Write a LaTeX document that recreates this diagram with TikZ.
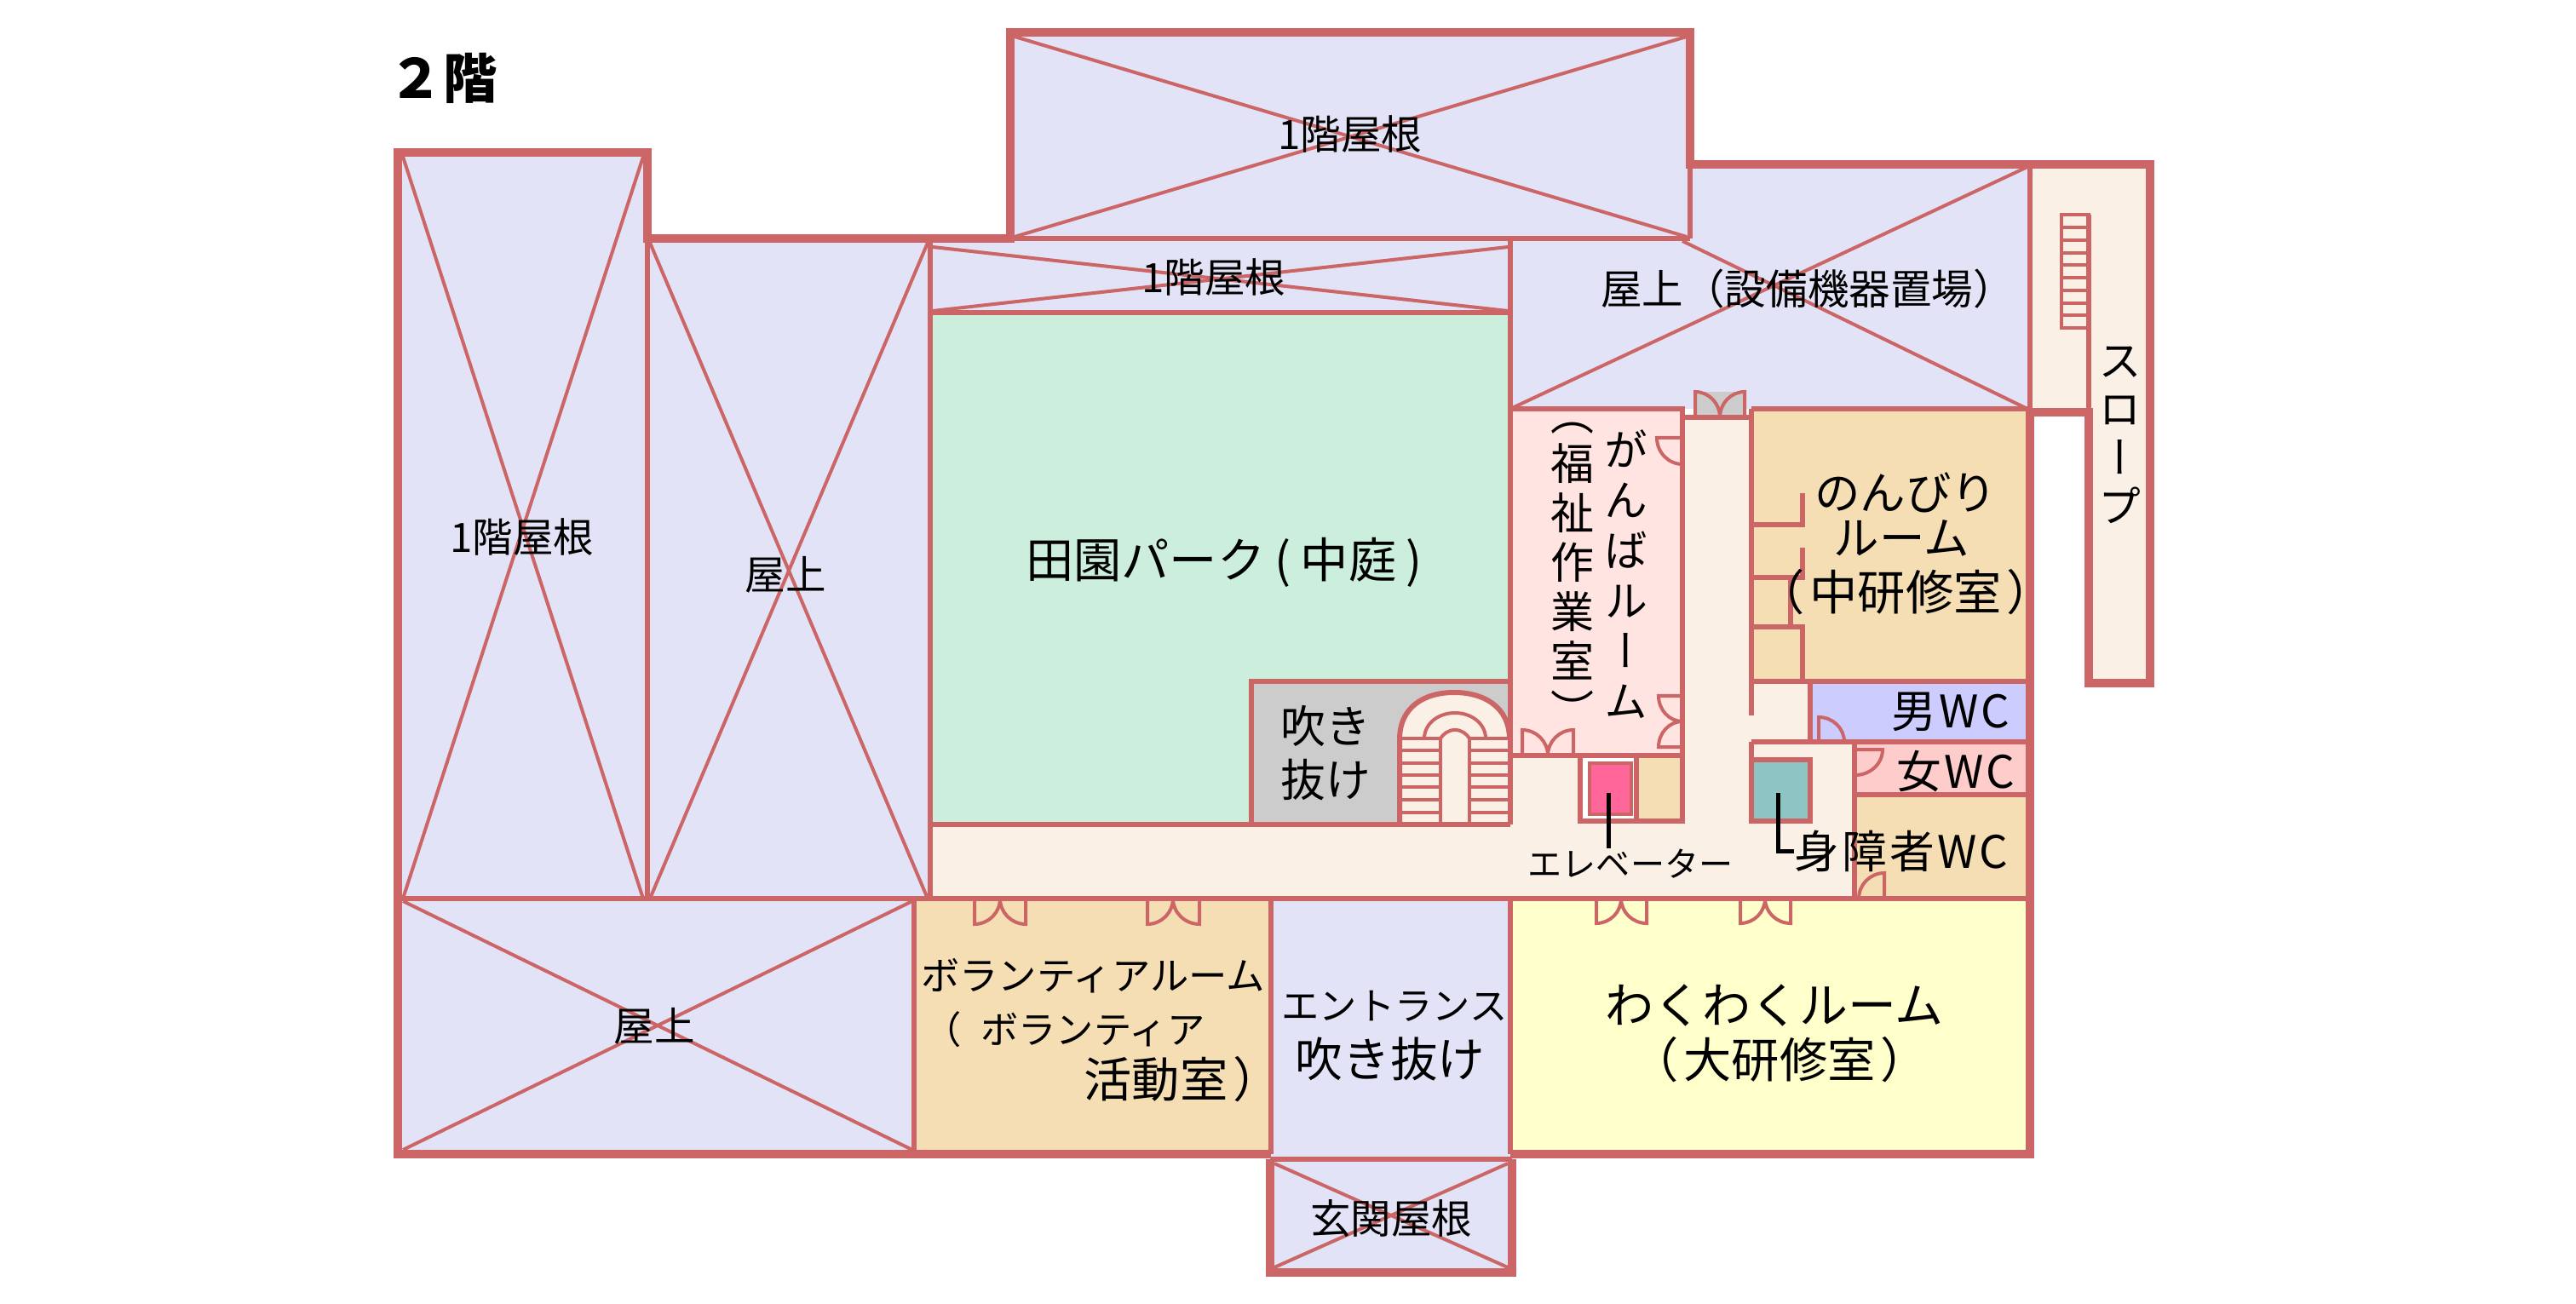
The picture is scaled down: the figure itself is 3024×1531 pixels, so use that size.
\documentclass[tikz,border=0pt]{standalone}
\usepackage{fontspec}
\setmainfont{Noto Sans CJK JP}
\newfontfamily\vertfont[RawFeature={+vert}]{Noto Sans CJK JP}
\usetikzlibrary{calc}
\definecolor{wallred}{HTML}{CC6666}
\definecolor{roofblue}{HTML}{E3E3F7}
\definecolor{courtgreen}{HTML}{CCEEDD}
\definecolor{voidgray}{HTML}{CCCCCC}
\definecolor{roomtan}{HTML}{F5DEB3}
\definecolor{roompink}{HTML}{FFE4E1}
\definecolor{hallcream}{HTML}{FAF0E6}
\definecolor{roomyellow}{HTML}{FFFFCC}
\definecolor{wcblue}{HTML}{CCCCFF}
\definecolor{wcpink}{HTML}{FFCCCC}
\definecolor{wcteal}{HTML}{8FC4C4}
\definecolor{liftpink}{HTML}{FF6699}
\tikzset{
  wallthick/.style={draw=wallred,line width=0.10cm,line join=miter},
  wallthin/.style={draw=wallred,line width=0.06cm},
  crossline/.style={draw=wallred,line width=0.04cm},
  doorline/.style={draw=wallred,line width=0.04cm},
  leadline/.style={draw=black,line width=0.05cm},
  lbl/.style={inner sep=0pt,font=\fontsize{#1}{#1}\selectfont},
  vlbl/.style={inner sep=0pt,align=center,font=\vertfont\fontsize{14.5}{#1}\selectfont}
}
% hinge, leaf tip, end on the wall
\newcommand{\doorleaf}[3]{
  \draw[doorline] (#1) -- (#2) .. controls ($(#2)+.55*(#3)-.55*(#1)$) and ($(#3)+.55*(#2)-.55*(#1)$) .. (#3);
}
\begin{document}
\begin{tikzpicture}[x=0.01cm,y=-0.01cm]
    \useasboundingbox (0,0) rectangle (3024,1531);
    \fill[white] (0,0) rectangle (3024,1531);
    % rooms
    \fill[roofblue] (467,179) -- (760,179) -- (760,280) -- (1186,280) -- (1186,38) -- (1984,38) -- (1984,193) -- (2383,193) -- (2383,480) -- (1773,480) -- (1773,1355) -- (467,1355) -- cycle;
    \fill[roofblue] (1491,1355) rectangle (1775,1494);
    \fill[courtgreen] (1092,367) rectangle (1773,968);
    \fill[voidgray] (1469,800) rectangle (1773,968);
    \fill[roomtan] (1073,1055) rectangle (1492,1355);
    \fill[roomyellow] (1773,1055) rectangle (2383,1355);
    \fill[roompink] (1773,480) rectangle (1975,887);
    \fill[voidgray] (1990,460) rectangle (2048,490);
    \fill[roomtan] (2056,480) rectangle (2383,800);
    \fill[wcblue] (2125,800) rectangle (2383,871);
    \fill[wcpink] (2177,871) rectangle (2383,933);
    \fill[roomtan] (2177,933) rectangle (2383,1055);
    \fill[hallcream] (1092,968) -- (1773,968) -- (1773,887) -- (1975,887) -- (1975,490) -- (2056,490) -- (2056,800) -- (2125,800) -- (2125,871) -- (2177,871) -- (2177,1055) -- (1092,1055) -- cycle;
    \fill[hallcream] (2383,193) -- (2524,193) -- (2524,802) -- (2452,802) -- (2452,484) -- (2383,484) -- cycle;
    \fill[roomtan] (1921,887) rectangle (1975,964);
    % roof crosses
    \draw[crossline] (473,184) -- (755,1055);
    \draw[crossline] (755,184) -- (473,1055);
    \draw[crossline] (763,285) -- (1089,1055);
    \draw[crossline] (1089,285) -- (763,1055);
    \draw[crossline] (1191,43) -- (1980,278);
    \draw[crossline] (1980,43) -- (1191,278);
    \draw[crossline] (1095,290) -- (1770,365);
    \draw[crossline] (1770,290) -- (1095,365);
    \draw[crossline] (1773,480) -- (2380,196);
    \draw[crossline] (1975,283) -- (2380,480);
    \draw[crossline] (473,1350) -- (1071,1058);
    \draw[crossline] (473,1058) -- (1071,1350);
    \draw[crossline] (1496,1366) -- (1770,1488);
    \draw[crossline] (1770,1366) -- (1496,1488);
    % stairs at the void
    \fill[hallcream] (1643,968) -- (1643,868) .. controls (1643,830) and (1672,813) .. (1707,813) .. controls (1742,813) and (1772,830) .. (1772,868) -- (1772,968) -- cycle;
    \draw[wallthin] (1643,968) -- (1643,868) .. controls (1643,830) and (1672,813) .. (1707,813) .. controls (1742,813) and (1772,830) .. (1772,868);
    \draw[doorline] (1672,867) .. controls (1672,850) and (1688,837) .. (1708,837) .. controls (1728,837) and (1744,850) .. (1744,867);
    \draw[doorline] (1691,867) .. controls (1694,862) and (1700,857) .. (1708,857) .. controls (1716,857) and (1722,862) .. (1725,867);
    \draw[doorline] (1691,867) -- (1691,968);
    \draw[doorline] (1725,867) -- (1725,968);
    \foreach \rung in {867,881,896,910,924,939,954} {
      \draw[doorline] (1643,\rung) -- (1691,\rung);
      \draw[doorline] (1725,\rung) -- (1772,\rung);
    }
    % walls
    \draw[wallthin] (467,1055) -- (2383,1055);
    \draw[wallthin] (760,280) -- (760,1055);
    \draw[wallthin] (1092,280) -- (1092,1055);
    \draw[wallthin] (1073,1055) -- (1073,1355);
    \draw[wallthin] (1492,1055) -- (1492,1355);
    \draw[wallthin] (1773,280) -- (1773,968);
    \draw[wallthin] (1773,1055) -- (1773,1355);
    \draw[wallthin] (1186,280) -- (1984,280);
    \draw[wallthin] (1984,193) -- (1984,280);
    \draw[wallthin] (1092,367) -- (1773,367);
    \draw[wallthin] (1092,968) -- (1773,968);
    \draw[wallthin] (1469,968) -- (1469,800) -- (1773,800);
    \draw[wallthin] (1773,480) -- (1975,480) -- (1975,964) -- (1855,964) -- (1855,887);
    \draw[wallthin] (1773,887) -- (1975,887);
    \draw[wallthin] (1975,490) -- (2056,490);
    \draw[wallthin] (2056,480) -- (2383,480);
    \draw[wallthin] (2056,480) -- (2056,840);
    \draw[wallthin] (2056,800) -- (2383,800);
    \draw[wallthin] (2125,800) -- (2125,871);
    \draw[wallthin] (2056,871) -- (2383,871);
    \draw[wallthin] (2056,871) -- (2056,892);
    \draw[wallthin] (2177,871) -- (2177,1055);
    \draw[wallthin] (2177,933) -- (2383,933);
    \draw[wallthin] (2383,193) -- (2383,484);
    \draw[wallthin] (2452,252) -- (2452,484);
    \draw[wallthin] (2116,579) -- (2116,616) -- (2056,616);
    \draw[wallthin] (2116,643) -- (2116,678) -- (2056,678);
    \draw[wallthin] (2102,678) -- (2102,736);
    \draw[wallthin] (2056,736) -- (2116,736) -- (2116,800);
    % lift and the box beside the stairs
    \fill[white] (1858,890) rectangle (1921,961);
    \filldraw[fill=liftpink,doorline] (1866,896) rectangle (1915,956);
    \draw[wallthin] (1921,887) -- (1921,964);
    \filldraw[fill=wcteal,wallthin] (2056,892) rectangle (2125,964);
    % stairs on the slope
    \draw[doorline] (2420,252) rectangle (2452,385);
    \foreach \rung in {267,282,297,311,326,341,356,370} {
      \draw[doorline] (2420,\rung) -- (2452,\rung);
    }
    % doors
    \doorleaf{1787,887}{1787,857}{1817,887}
    \doorleaf{1847,887}{1847,857}{1817,887}
    \doorleaf{1990,490}{1990,460}{2019,490}
    \doorleaf{2048,490}{2048,460}{2019,490}
    \doorleaf{1975,514}{1945,514}{1975,545}
    \doorleaf{1975,817}{1947,817}{1975,847}
    \doorleaf{1975,877}{1947,877}{1975,847}
    \doorleaf{2135,871}{2135,842}{2165,871}
    \doorleaf{2178,880}{2210,880}{2178,910}
    \doorleaf{2212,1055}{2212,1025}{2182,1055}
    \doorleaf{1144,1055}{1144,1085}{1174,1055}
    \doorleaf{1204,1055}{1204,1085}{1174,1055}
    \doorleaf{1347,1055}{1347,1085}{1377,1055}
    \doorleaf{1408,1055}{1408,1085}{1377,1055}
    \doorleaf{1874,1055}{1874,1084}{1903,1055}
    \doorleaf{1933,1055}{1933,1084}{1903,1055}
    \doorleaf{2043,1055}{2043,1084}{2072,1055}
    \doorleaf{2102,1055}{2102,1084}{2072,1055}
    % outer walls
    \draw[wallthick] (1492,1355) -- (467,1355) -- (467,179) -- (760,179) -- (760,280) -- (1186,280) -- (1186,38) -- (1984,38) -- (1984,193) -- (2524,193) -- (2524,802) -- (2452,802) -- (2452,484) -- (2383,484) -- (2383,1355) -- (1773,1355);
    \draw[wallthick] (1491,1361) -- (1491,1494) -- (1775,1494) -- (1775,1361);
    \draw[wallthin] (1491,1361) -- (1775,1361);
    % labels
    \node[lbl=18,font=\fontsize{18}{18}\bfseries\selectfont] (floorname) at (520,92) {２階};
    \node[lbl=13.5] (roofwest) at (613,631) {1階屋根};
    \node[lbl=13.5] (roofnorth) at (1585,158) {1階屋根};
    \node[lbl=13.5] (roofstrip) at (1425,326) {1階屋根};
    \node[lbl=13.5] (roofmid) at (922,675) {屋上};
    \node[lbl=13.8] (roofplant) at (2122,339) {屋上（設備機器置場）};
    \node[lbl=13.5] (roofsouth) at (768,1205) {屋上};
    \node[lbl=16] (court) at (1437,660) {田園パーク\hspace{.2em}(\hspace{.2em}中庭\hspace{.2em})};
    \node[lbl=15,align=center] (voidname) at (1556,884) {吹き\\[3pt]抜け};
    \node[vlbl=16.8] (ganba) at (1909,674) {が\\ん\\ば\\ル\\ー\\ム};
    \node[vlbl=16.5] (ganbasub) at (1846,675) {（\\福\\祉\\作\\業\\室\\）};
    \node[vlbl=16.2] (slopename) at (2489,511) {ス\\ロ\\ー\\プ};
    \node[lbl=15.2] (nonbiri) at (2237,578) {のんびり};
    \node[lbl=15.2] (nonbirib) at (2232,632) {ルーム};
    \node[lbl=16] (nonbiric) at (2237,695) {（\hspace{.1em}中研修室\hspace{.1em}）};
    \node[lbl=15] (wcmen) at (2290,836) {{\addfontfeature{LetterSpace=6}男WC}};
    \node[lbl=15] (wcwomen) at (2296,906) {{\addfontfeature{LetterSpace=6}女WC}};
    \node[lbl=15] (wcaccess) at (2232,999) {{\addfontfeature{LetterSpace=6}身障者WC}};
    \node[lbl=11.4] (liftname) at (1914,1014) {エレベーター};
    \node[lbl=12.9] (volun) at (1283,1146) {ボランティアルーム};
    \node[lbl=12.6,anchor=east] (volunb) at (1415,1209) {（\hspace{.5em}ボランティア};
    \node[lbl=16,anchor=west] (volunc) at (1272,1267) {活動室\hspace{.1em}）};
    \node[lbl=12.6] (entry) at (1637,1181) {エントランス};
    \node[lbl=15.8] (entryvoid) at (1632,1243) {吹き抜け};
    \node[lbl=16.2] (waku) at (2083,1180) {わくわくルーム};
    \node[lbl=16] (wakub) at (2089,1244) {（\hspace{.1em}大研修室\hspace{.1em}）};
    \node[lbl=13.5] (porch) at (1633,1431) {玄関屋根};
    % leaders
    \coordinate (liftmark) at (1888,931);
    \coordinate (wcmark) at (2087,931);
    \draw[leadline] (liftmark) -- (liftmark |- liftname.north);
    \draw[leadline] (wcmark) -- (wcmark |- wcaccess.west) -- (wcaccess.west);
  \end{tikzpicture}
\end{document}
